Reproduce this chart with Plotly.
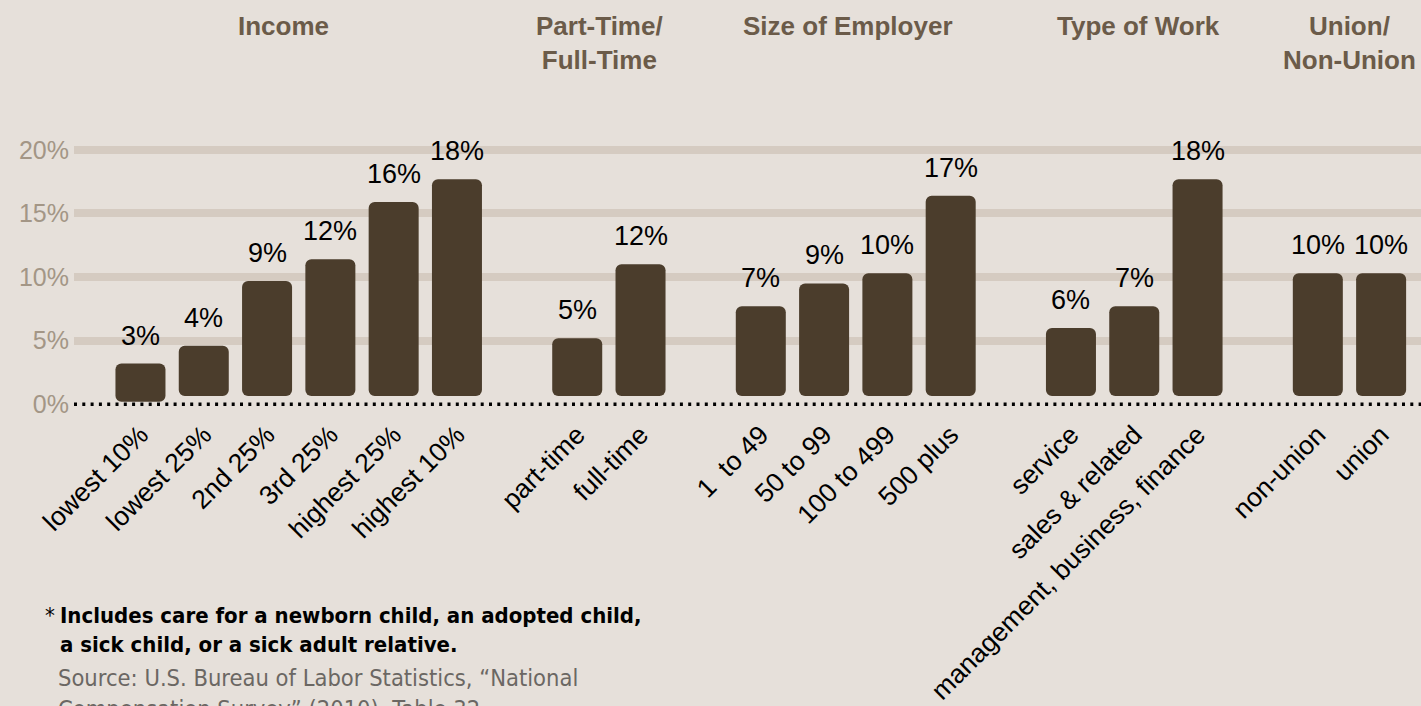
import plotly.graph_objects as go

# groups shown across the top
group_titles = ["Income", "Part-Time/<br>Full-Time", "Size of Employer",
                "Type of Work", "Union/<br>Non-Union"]
group_sizes = [6, 2, 4, 3, 2]

categories = ["lowest 10%", "lowest 25%", "2nd 25%", "3rd 25%", "highest 25%", "highest 10%",
              "part-time", "full-time",
              "1  to 49", "50 to 99", "100 to 499", "500 plus",
              "service", "sales & related", "management, business, finance",
              "non-union", "union"]
values = [3.2, 4.6, 9.7, 11.4, 15.9, 17.7,
          5.2, 11.0,
          7.7, 9.5, 10.3, 16.4,
          6.0, 7.7, 17.7,
          10.3, 10.3]
labels = ["3%", "4%", "9%", "12%", "16%", "18%",
          "5%", "12%",
          "7%", "9%", "10%", "17%",
          "6%", "7%", "18%",
          "10%", "10%"]

tick_vals = [0, 5, 10, 15, 20]
tick_text = ["0%", "5%", "10%", "15%", "20%"]

footnote = "Includes care for a newborn child, an adopted child,<br>a sick child, or a sick adult relative."
source = "Source: U.S. Bureau of Labor Statistics, \u201cNational<br>Compensation Survey\u201d (2010), Table 32."

BG = "#e6e0da"
BAR = "#4b3d2c"
GRID = "#d5cbc1"
GROUP_GAP = 0.9
SANS = "Liberation Sans, Arial, sans-serif"
NARROW = "Liberation Sans Narrow, DejaVu Sans Condensed, Roboto Condensed, sans-serif"

# x positions: one slot per bar, extra space between groups
xpos = []
group_of = []
i = 0
for g, n in enumerate(group_sizes):
    for _ in range(n):
        xpos.append(i + GROUP_GAP * g)
        group_of.append(g)
        i += 1

# bars float a little above the dotted baseline
base = [0.2] + [0.65] * (len(values) - 1)
heights = [v - b for v, b in zip(values, base)]

fig = go.Figure()
fig.add_trace(go.Bar(x=xpos, y=heights, base=base, width=0.79,
                     marker=dict(color=BAR, line=dict(width=0)),
                     hoverinfo="skip"))

# value labels above bars
for x, v, t in zip(xpos, values, labels):
    fig.add_annotation(x=x, y=v, text=t, showarrow=False, yanchor="bottom",
                       yshift=11, font=dict(family=SANS, size=27, color="#000000"))

# group headers (nudged a bit like the original)
header_shift = [-15, -9, -8, 4, 0]
for g, title in enumerate(group_titles):
    xs = [x for x, gg in zip(xpos, group_of) if gg == g]
    fig.add_annotation(x=(xs[0] + xs[-1]) / 2, xref="x", y=1, yref="paper",
                       yanchor="top", yshift=90, xshift=header_shift[g],
                       text=title, showarrow=False,
                       font=dict(family=SANS, size=26, color="#6b5b49", weight=600))

# footnotes
fig.add_annotation(x=0, xref="paper", y=0, yref="paper", xanchor="left", yanchor="top",
                   xshift=-31, yshift=-184, text="*", showarrow=False,
                   font=dict(family=NARROW, size=22, color="#000000"))
fig.add_annotation(x=0, xref="paper", y=0, yref="paper", xanchor="left", yanchor="top",
                   xshift=-16, yshift=-184, text=footnote, showarrow=False, align="left",
                   font=dict(family=NARROW, size=22, color="#000000", weight="bold"))
fig.add_annotation(x=0, xref="paper", y=0, yref="paper", xanchor="left", yanchor="top",
                   xshift=-18, yshift=-245, text=source, showarrow=False, align="left",
                   font=dict(family=NARROW, size=23.5, color="#6b6763"))

# dotted baseline
fig.add_shape(type="line", xref="paper", x0=0, x1=1, y0=0, y1=0,
              line=dict(color="#000000", width=3.5, dash="3px,5.3px"), layer="above")

fig.update_layout(
    width=1421, height=706,
    paper_bgcolor=BG, plot_bgcolor=BG,
    margin=dict(l=74, r=0, t=99, b=289),
    showlegend=False,
    barcornerradius=6,
    xaxis=dict(range=[-1.05, 20.23], tickvals=xpos, ticktext=categories,
               tickangle=-45, showgrid=False, zeroline=False, showline=False,
               ticks="", ticklabelstandoff=-4,
               tickfont=dict(family=SANS, size=26.5, color="#000000")),
    yaxis=dict(range=[-1, 24], tickvals=tick_vals, ticktext=tick_text,
               showgrid=True, gridcolor=GRID, gridwidth=8,
               zeroline=True, zerolinecolor=BG, zerolinewidth=12,
               showline=False, ticks="", ticklabelstandoff=4,
               tickfont=dict(family=SANS, size=25, color="#a39686")),
)

fig.write_html("out.html", config={"displayModeBar": False},
               post_script="document.body.style.margin='0';")
